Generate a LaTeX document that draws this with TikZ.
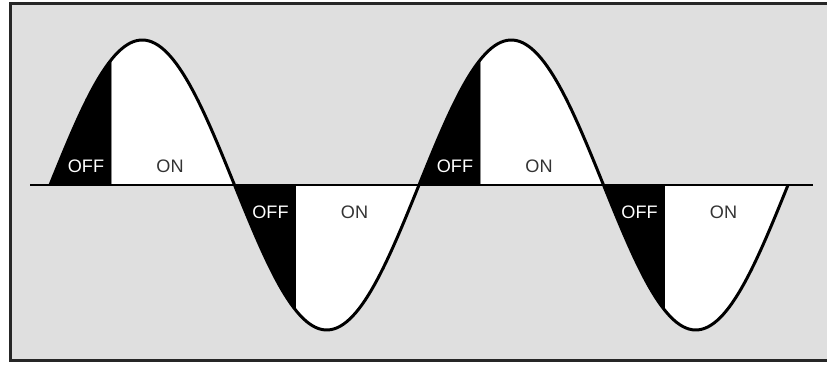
\documentclass[tikz,border=0pt]{standalone}
\usepackage{fontspec}
\setmainfont{Liberation Sans}
\usepackage{tikz}
\definecolor{panelgray}{RGB}{223,223,223}

\begin{document}
\begin{tikzpicture}[x=0.02cm,y=0.02cm,
  lbl/.style={font=\fontsize{10.3}{12}\selectfont,inner sep=0pt}]
\clip(0,0)rectangle(827,365);
\draw[line width=1.7pt,draw=black!85,fill=panelgray](10.5,4.5)rectangle(840,361.5);
% OFF / ON parts of each half wave
\foreach \k/\s/\ly in {0/1/199,1/-1/153,2/1/199,3/-1/153}{
\pgfmathsetmacro{\z}{50+184.5*\k}
\fill[black](\z,180)--plot[domain=0:60,samples=25]({\z+\x*1.025},{180+\s*145*sin(\x)})--(\z+61.5,180)--cycle;
\fill[white](\z+61.5,180)--plot[domain=60:180,samples=40]({\z+\x*1.025},{180+\s*145*sin(\x)})--cycle;
\node[lbl,white](off\k) at (\z+36,\ly){OFF};
\node[lbl,black!80](on\k) at (\z+120,\ly){ON};
}
\draw[line width=1.7pt,line join=round](50,180)--plot[domain=0:720,samples=240]({50+\x*1.025},{180+145*sin(\x)});
\coordinate(axl) at (30,180);
\coordinate(axr) at (813,180);
\draw[line width=1.3pt](axl)--(axr);
\end{tikzpicture}
\end{document}
